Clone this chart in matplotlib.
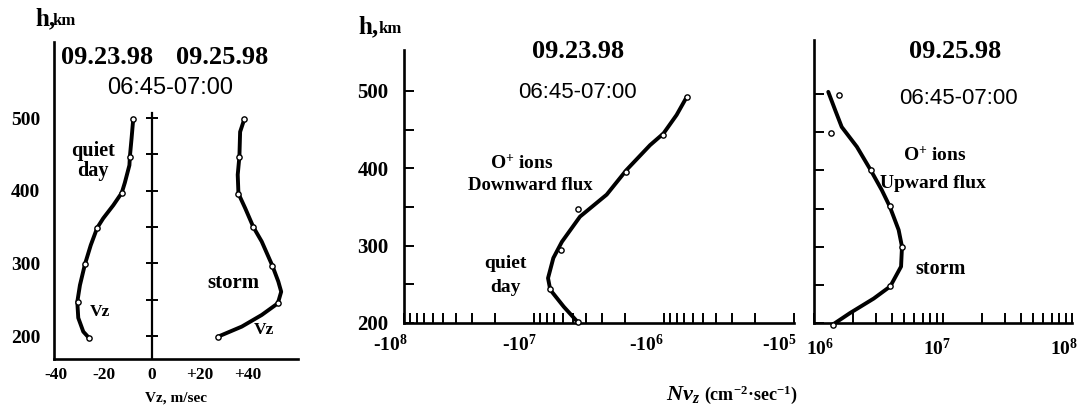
import matplotlib
matplotlib.use("Agg")
import matplotlib.pyplot as plt
from matplotlib.ticker import FixedLocator, LogLocator, NullFormatter
from matplotlib.transforms import ScaledTranslation
import numpy as np

# ---- left panel: Vz (m/sec) vs height ----
h_quiet_line = [499, 472, 447, 435, 411, 397, 380, 362, 349, 325, 299, 270, 247, 225, 206, 197]
vz_quiet_line = [-7.8, -8.5, -9.2, -9.4, -11.3, -12.6, -16.1, -20.3, -22.8, -25.5, -27.9, -30.0, -31.1, -30.7, -28.6, -26.1]
h_quiet_pts = [499, 447, 397, 349, 299, 247, 197]
vz_quiet_pts = [-7.8, -9.2, -12.6, -22.8, -27.9, -30.7, -26.1]

h_storm_line = [499, 481, 447, 422, 396, 376, 350, 330, 297, 275, 261, 245, 229, 213, 199]
vz_storm_line = [38.5, 36.7, 36.4, 35.7, 36.0, 38.8, 42.2, 45.7, 50.1, 52.6, 53.8, 52.4, 45.7, 37.4, 27.4]
h_storm_pts = [499, 447, 396, 350, 297, 245, 199]
vz_storm_pts = [38.5, 36.4, 36.0, 42.2, 50.1, 52.4, 27.4]

vz_ticks = [-40, -20, 0, 20, 40]
vz_ticklabels = ["-40", "-20", "0", "+20", "+40"]
h_ticks = [200, 300, 400, 500]
h_minor = [200, 250, 300, 350, 400, 450, 500]

# ---- middle panel: O+ downward flux, quiet day (cm-2 sec-1) ----
h_down_line = [492, 469, 445, 430, 398, 366, 337.5, 305, 284, 258, 243, 221, 201]
flux_down_line = [-6.7e5, -8.0e5, -1.01e6, -1.28e6, -1.94e6, -2.76e6, -4.43e6, -6.1e6, -7.1e6, -7.8e6, -7.5e6, -5.9e6, -4.6e6]
h_down_pts = [492, 443, 395, 347, 294, 244, 201]
flux_down_pts = [-6.7e5, -1.02e6, -1.96e6, -4.56e6, -6.2e6, -7.5e6, -4.6e6]
down_ticks = [1e8, 1e7, 1e6, 1e5]
down_ticklabels = ["-$10^{8}$", "-$10^{7}$", "-$10^{6}$", "-$10^{5}$"]

# ---- right panel: O+ upward flux, storm ----
h_up_line = [503, 479, 457, 431, 400, 374, 353, 322, 300, 274, 248, 232, 213, 198]
flux_up_line = [1.29e6, 1.46e6, 1.64e6, 2.15e6, 2.76e6, 3.36e6, 3.86e6, 4.53e6, 4.81e6, 4.73e6, 3.9e6, 2.9e6, 1.9e6, 1.4e6]
h_up_pts = [499, 449, 400, 353, 300, 248, 198]
flux_up_pts = [1.55e6, 1.35e6, 2.76e6, 3.86e6, 4.81e6, 3.9e6, 1.4e6]
up_ticks = [1e6, 1e7, 1e8]
up_ticklabels = ["$10^{6}$", "$10^{7}$", "$10^{8}$"]

plt.rcParams["font.family"] = "Liberation Serif"
plt.rcParams["font.weight"] = "bold"
plt.rcParams["mathtext.default"] = "regular"

W, H = 1082, 412
fig = plt.figure(figsize=(W / 100, H / 100), dpi=100)


def ftext(x, y, s, **kw):
    # place text by pixel position of the reference picture
    kw.setdefault("ha", "center")
    kw.setdefault("va", "center")
    fig.text(x / W, 1 - y / H, s, **kw)


def add_ax(x0, y0, x1, y1):
    ax = fig.add_axes([x0 / W, 1 - y1 / H, (x1 - x0) / W, (y1 - y0) / H])
    ax.spines["top"].set_visible(False)
    ax.spines["right"].set_visible(False)
    for s in ["left", "bottom"]:
        ax.spines[s].set_linewidth(1.9)
    return ax


def shift_labels(labels, dxs):
    # nudge tick labels sideways by a few pixels
    for lab, dx in zip(labels, dxs):
        lab.set_transform(lab.get_transform() + ScaledTranslation(dx / 100, 0, fig.dpi_scale_trans))


line_kw = dict(color="black", lw=2.8, solid_joinstyle="round", solid_capstyle="round", zorder=2)
pt_kw = dict(ls="none", marker="o", ms=3.8, mfc="white", mec="black", mew=1.0, zorder=3, clip_on=False)

# ---------------- left panel ----------------
ax1 = add_ax(54, 42, 298, 359)
ax1.plot(vz_quiet_line, h_quiet_line, **line_kw)
ax1.plot(vz_quiet_pts, h_quiet_pts, **pt_kw)
ax1.plot(vz_storm_line, h_storm_line, **line_kw)
ax1.plot(vz_storm_pts, h_storm_pts, **pt_kw)
# central zero axis with ticks
ax1.plot([0, 0], [168, 507], color="black", lw=1.6, zorder=1)
ax1.plot([0] * len(h_minor), h_minor, ls="none", marker="_", ms=9, mew=1.4, color="black")
ax1.set_xlim(-40.8, 60.8)
ax1.set_ylim(168.4, 604.6)
ax1.set_xticks(vz_ticks)
ax1.set_xticklabels(vz_ticklabels, fontsize=12.5)
ax1.set_yticks(h_ticks)
ax1.set_yticklabels([str(v) for v in h_ticks], fontsize=14)
ax1.tick_params(axis="both", length=0)
ax1.tick_params(axis="x", pad=6)
ax1.tick_params(axis="y", pad=10)

ftext(35, 25, "h,", fontsize=18, ha="left", va="baseline")
ftext(53, 25, "km", fontsize=12, ha="left", va="baseline")
ftext(107, 58, "09.23.98", fontsize=19)
ftext(222, 58, "09.25.98", fontsize=19)
ftext(170, 88, "06:45-07:00", fontsize=17, family="Liberation Sans", weight="normal")
ftext(93, 161, "quiet\nday", fontsize=14.5, linespacing=1.0)
ftext(100, 312, "Vz", fontsize=12.5)
ftext(233, 283, "storm", fontsize=15)
ftext(264, 330, "Vz", fontsize=12.5)
ftext(176, 398, "Vz, m/sec", fontsize=11)

# ---------------- middle panel ----------------
ax2 = add_ax(404, 50, 794, 323)
ax2.plot(np.abs(flux_down_line), h_down_line, **line_kw)
ax2.plot(np.abs(flux_down_pts), h_down_pts, **pt_kw)
ax2.set_xscale("log")
ax2.set_xlim(1e8, 1e5)
ax2.set_ylim(200, 553)
ax2.xaxis.set_major_locator(FixedLocator(down_ticks))
ax2.set_xticklabels(down_ticklabels, fontsize=14, ha="right")
ax2.xaxis.set_minor_locator(LogLocator(base=10, subs=np.arange(2, 10)))
ax2.xaxis.set_minor_formatter(NullFormatter())
ax2.set_yticks(h_ticks)
ax2.set_yticklabels([str(v) for v in h_ticks], fontsize=15)
ax2.yaxis.set_minor_locator(FixedLocator(h_minor))
ax2.tick_params(axis="both", which="both", direction="in", length=7, width=1.4)
ax2.tick_params(axis="x", pad=8)
ax2.tick_params(axis="y", pad=11)
shift_labels(ax2.get_xticklabels(), [4, 3, 0, 2])

ftext(358, 33, "h,", fontsize=18, ha="left", va="baseline")
ftext(379, 33, "km", fontsize=12, ha="left", va="baseline")
ftext(578, 52, "09.23.98", fontsize=19)
ftext(577, 92, "06:45-07:00", fontsize=16, family="Liberation Sans", weight="normal")
ftext(522, 163, "O$^{+}$ ions", fontsize=14)
ftext(530, 185, "Downward flux", fontsize=13.5)
ftext(505, 263, "quiet", fontsize=14)
ftext(505, 287, "day", fontsize=14)

# ---------------- right panel ----------------
ax3 = add_ax(814, 40, 1072, 323)
ax3.plot(flux_up_line, h_up_line, **line_kw)
ax3.plot(flux_up_pts, h_up_pts, **pt_kw)
ax3.set_xscale("log")
ax3.set_xlim(1e6, 1e8)
ax3.set_ylim(200, 571)
ax3.xaxis.set_major_locator(FixedLocator(up_ticks))
ax3.set_xticklabels(up_ticklabels, fontsize=14)
ax3.xaxis.set_minor_locator(LogLocator(base=10, subs=np.arange(2, 10)))
ax3.xaxis.set_minor_formatter(NullFormatter())
ax3.yaxis.set_major_locator(FixedLocator(h_minor))
ax3.set_yticklabels([])
ax3.tick_params(axis="both", which="both", direction="in", length=7, width=1.4)
ax3.tick_params(axis="x", pad=11)
shift_labels(ax3.get_xticklabels(), [6, -6, -8])

ftext(955, 52, "09.25.98", fontsize=19)
ftext(958, 98, "06:45-07:00", fontsize=16, family="Liberation Sans", weight="normal")
ftext(935, 155, "O$^{+}$ ions", fontsize=14)
ftext(933, 183, "Upward flux", fontsize=14)
ftext(941, 269, "storm", fontsize=14.5)

# shared x label of the flux panels
ftext(666, 400, "N$v_z$", fontsize=16, style="italic", ha="left", va="baseline")
ftext(704, 400, "(cm$^{-2}$·sec$^{-1}$)", fontsize=13, ha="left", va="baseline")

fig.savefig("out.png", dpi=100)
